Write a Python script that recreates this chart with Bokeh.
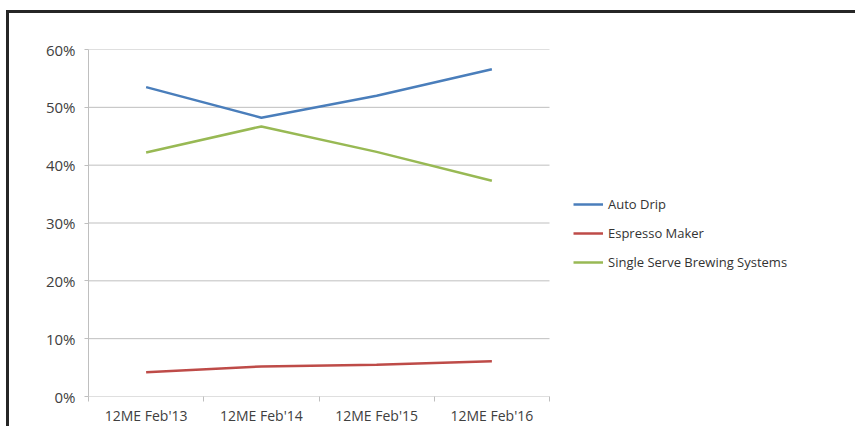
from bokeh.plotting import figure
from bokeh.models import FixedTicker, NumeralTickFormatter, Legend, LegendItem, Range1d
from bokeh.embed import file_html
from bokeh.resources import INLINE

categories = ["12ME Feb'13", "12ME Feb'14", "12ME Feb'15", "12ME Feb'16"]
auto_drip = [0.535, 0.482, 0.520, 0.566]
espresso = [0.042, 0.052, 0.055, 0.061]
single_serve = [0.422, 0.467, 0.423, 0.373]
y_ticks = [0.0, 0.1, 0.2, 0.3, 0.4, 0.5, 0.6]

n = len(categories)
x = [i + 0.5 for i in range(n)]

FONT = "Open Sans"
GRID = "#BFBFBF"

# the plot area spans 461 px for the categories; the frame is widened to hold the legend
CANVAS_W, LEFT = 849, 79
frame_w = CANVAS_W - LEFT
x_end = n * frame_w / 461.0

p = figure(width=CANVAS_W, height=420, output_backend="svg", toolbar_location=None,
           x_range=Range1d(0, x_end), y_range=Range1d(0, 0.6),
           min_border_left=LEFT, min_border_right=0, min_border_top=36, min_border_bottom=37,
           styles={"margin-left": "6px", "margin-top": "10px",
                   "border-left": "3px solid #262626", "border-top": "3px solid #262626"})
p.outline_line_color = None
p.background_fill_color = "white"
p.border_fill_color = "white"
p.xgrid.grid_line_color = None
p.ygrid.grid_line_color = None

# horizontal gridlines (and the 0% base line) over the category span only
p.segment(x0=[0] * len(y_ticks), x1=[n] * len(y_ticks), y0=y_ticks, y1=y_ticks,
          line_color=GRID, line_width=1)

# x axis
p.xaxis.ticker = FixedTicker(ticks=x, minor_ticks=list(range(n + 1)))
p.xaxis.major_label_overrides = {xv: c for xv, c in zip(x, categories)}
p.xaxis.major_tick_line_color = None
p.xaxis.minor_tick_in = 0
p.xaxis.minor_tick_out = 5
p.xaxis.minor_tick_line_color = GRID
p.xaxis.axis_line_color = None
p.xaxis.major_label_standoff = 3
p.xaxis.major_label_text_font_size = "14px"

# y axis
p.yaxis.ticker = FixedTicker(ticks=y_ticks)
p.yaxis.formatter = NumeralTickFormatter(format="0%")
p.yaxis.major_tick_in = 0
p.yaxis.major_tick_out = 4
p.yaxis.minor_tick_line_color = None
p.yaxis.major_tick_line_color = GRID
p.yaxis.axis_line_color = GRID
p.yaxis.major_label_standoff = 9
p.yaxis.major_label_text_font_size = "15px"

for ax in (p.xaxis, p.yaxis):
    ax.major_label_text_font = FONT
    ax.major_label_text_color = "#404040"

r1 = p.line(x, auto_drip, line_color="#4A7EBB", line_width=2.5)
r2 = p.line(x, espresso, line_color="#BE4B48", line_width=2.5)
r3 = p.line(x, single_serve, line_color="#98B954", line_width=2.5)

legend = Legend(items=[LegendItem(label="Auto Drip", renderers=[r1]),
                       LegendItem(label="Espresso Maker", renderers=[r2]),
                       LegendItem(label="Single Serve Brewing Systems", renderers=[r3])],
                location=(485, 124))
legend.margin = 0
legend.padding = 0
legend.border_line_color = None
legend.background_fill_alpha = 0
legend.glyph_width = 30
legend.glyph_height = 20
legend.label_height = 20
legend.spacing = 9
legend.label_standoff = 5
legend.label_text_font = FONT
legend.label_text_font_size = "13px"
legend.label_text_color = "#333333"
p.add_layout(legend, "center")

open("out.html", "w").write(file_html(p, INLINE))
